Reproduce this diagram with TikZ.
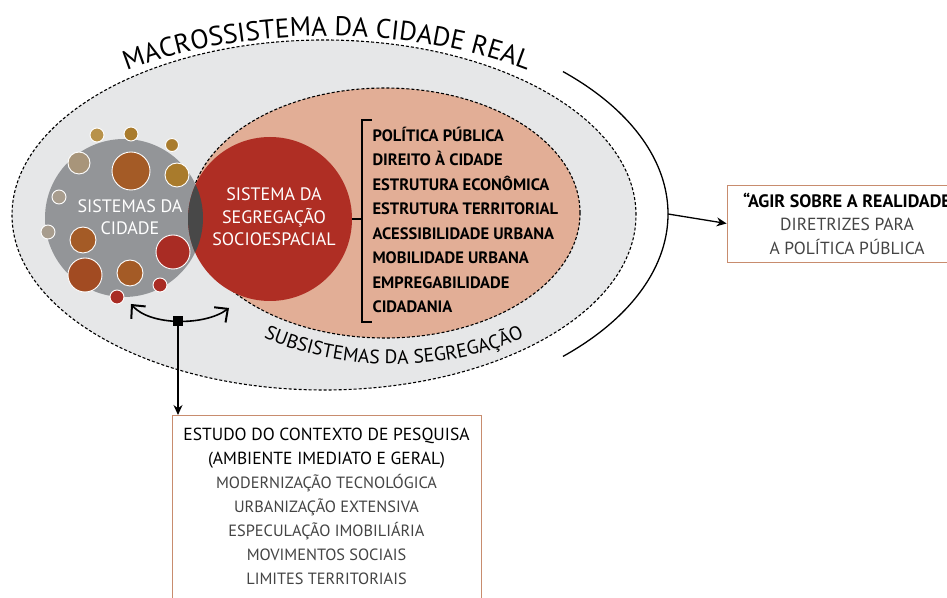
\documentclass[tikz,border=0pt]{standalone}
\usepackage{fontspec}
\setmainfont{PT Sans}
\usepackage{tikz}
\usetikzlibrary{arrows.meta, positioning, decorations.text}
\usepackage{xcolor}
\definecolor{accentlight}{RGB}{230, 231, 232}
\definecolor{accentsalmon}{RGB}{226, 174, 150}
\definecolor{accentgray}{RGB}{147, 149, 152}
\definecolor{accentred}{RGB}{175, 46, 36}
\definecolor{accentlens}{RGB}{72, 72, 72}
\definecolor{accentframe}{RGB}{200, 140, 110}
\definecolor{accenttext}{RGB}{68, 68, 68}
\definecolor{dotgold}{RGB}{184, 146, 74}
\definecolor{dotochre}{RGB}{169, 123, 44}
\definecolor{dotkhaki}{RGB}{168, 149, 122}
\definecolor{dotstone}{RGB}{168, 157, 142}
\definecolor{dotrust}{RGB}{164, 91, 38}
\definecolor{dotbrick}{RGB}{162, 75, 34}
\definecolor{dotred}{RGB}{169, 44, 36}
\newcommand{\macrofont}{\fontsize{27}{27}\selectfont}
\newcommand{\subfont}{\fontsize{19.5}{19.5}\selectfont}

\begin{document}
\begin{tikzpicture}[x=1pt, y=1pt,
    dashline/.style={dash pattern=on 3pt off 2pt, line width=1.1pt},
    disc/.style={circle, inner sep=0pt},
    whitetext/.style={white, align=center, font=\fontsize{18}{22.5}\selectfont},
    framebox/.style={draw=accentframe, line width=0.8pt, fill=white, align=center},
    barb/.style={{Straight Barb[length=10pt, width=19pt, line width=2pt]}-{Straight Barb[length=10pt, width=19pt, line width=2pt]}}]
    \useasboundingbox (0,0) rectangle (947,597);

    % macrosystem and subsystems
    \fill[accentlight] (324,382) ellipse[x radius=312, y radius=175];
    \draw[dashline] (324,382) ellipse[x radius=312, y radius=175];
    \filldraw[fill=accentsalmon, dashline] (385,384) ellipse[x radius=195, y radius=125];

    \path[decorate, decoration={text along path, text align=center,
        text={|\macrofont|MACROSSISTEMA DA CIDADE REAL}}]
        (327,382) ++(150:339 and 179) arc[start angle=150, end angle=30, x radius=339, y radius=179];
    \path[decorate, decoration={text along path, text align=center,
        text={|\subfont|SUBSISTEMAS DA SEGREGAÇÃO}}]
        (394,384) ++(205:230 and 151) arc[start angle=205, end angle=335, x radius=230, y radius=151];

    % the two systems
    \node[disc, fill=accentgray, minimum size=158pt] (city) at (124,379) {};
    \node[disc, fill=accentred, minimum size=164pt] (seg) at (270,378) {};
    \begin{scope}
        \clip (city.center) circle (79);
        \fill[accentlens] (seg.center) circle (82);
    \end{scope}
    \foreach \x/\y/\r/\c in {97/462/7/dotgold, 131/463/7/dotochre, 172/452/6.5/dotochre,
        79/434/11/dotkhaki, 131/426/19/dotrust, 177/422/12/dotochre, 59/400/7/dotstone,
        48/365/7/dotstone, 83/357/13/dotrust, 173/345/17/dotred, 85/322/17/dotbrick,
        130/324/13/dotrust, 160/312/7/dotred, 117/300/7/dotred}
        \filldraw[fill=\c, draw=white, line width=0.9pt] (\x,\y) circle (\r);
    \node[whitetext] (citylbl) at (130,380) {SISTEMAS DA\\CIDADE};
    \node[whitetext] (seglbl) at (274,380) {SISTEMA DA\\SEGREGAÇÃO\\SOCIOESPACIAL};

    % subsystems list
    \draw[line width=1.2pt] (372,477) -- (362,477) -- (362,275) -- (372,275);
    \coordinate (brk) at (362,378);
    \draw[line width=1.2pt] (seg.east) -- (brk);
    \node[anchor=west, align=left, font=\bfseries\fontsize{16.5}{24.5}\selectfont] (items) at (369,377)
        {POLÍTICA PÚBLICA\\DIREITO À CIDADE\\ESTRUTURA ECONÔMICA\\ESTRUTURA TERRITORIAL\\
         ACESSIBILIDADE URBANA\\MOBILIDADE URBANA\\EMPREGABILIDADE\\CIDADANIA};

    % acting on reality
    \draw[line width=1.3pt] (324,383) ++(-46:344 and 198) arc[start angle=-46, end angle=46, x radius=344, y radius=198];
    \coordinate (arcmid) at (668,383);
    \node[framebox, minimum width=240pt, minimum height=77pt, font=\fontsize{17.5}{23.5}\selectfont] (act) at (847,373.5)
        {{\bfseries\fontsize{18}{23.5}\selectfont “AGIR SOBRE A REALIDADE}\\\color{accenttext}DIRETRIZES PARA\\\color{accenttext}A POLÍTICA PÚBLICA};
    \draw[-{Stealth[length=10pt, width=9pt]}, line width=1.3pt] (arcmid) -- (act.west);

    % research context
    \coordinate (cl) at (131,293);
    \coordinate (cr) at (229,289);
    \draw[barb, line width=1.6pt] (cl) .. controls (150,271) and (205,271) .. (cr);
    \node[fill=black, minimum size=10pt, inner sep=0pt] (sq) at (178,276) {};
    \node[framebox, anchor=north, minimum width=309pt, inner ysep=13pt, font=\fontsize{16.3}{24}\selectfont] (ctx) at (326.5,182)
        {{\fontsize{17.5}{23}\selectfont ESTUDO DO CONTEXTO DE PESQUISA}\\
         {\fontsize{17.5}{23}\selectfont (AMBIENTE IMEDIATO E GERAL)}\\
         \color{accenttext}MODERNIZAÇÃO TECNOLÓGICA\\\color{accenttext}URBANIZAÇÃO EXTENSIVA\\
         \color{accenttext}ESPECULAÇÃO IMOBILIÁRIA\\\color{accenttext}MOVIMENTOS SOCIAIS\\
         \color{accenttext}LIMITES TERRITORIAIS};
    \draw[-{Stealth[length=10pt, width=9pt]}, line width=1.3pt] (sq) -- (sq |- ctx.north);
\end{tikzpicture}
\end{document}
